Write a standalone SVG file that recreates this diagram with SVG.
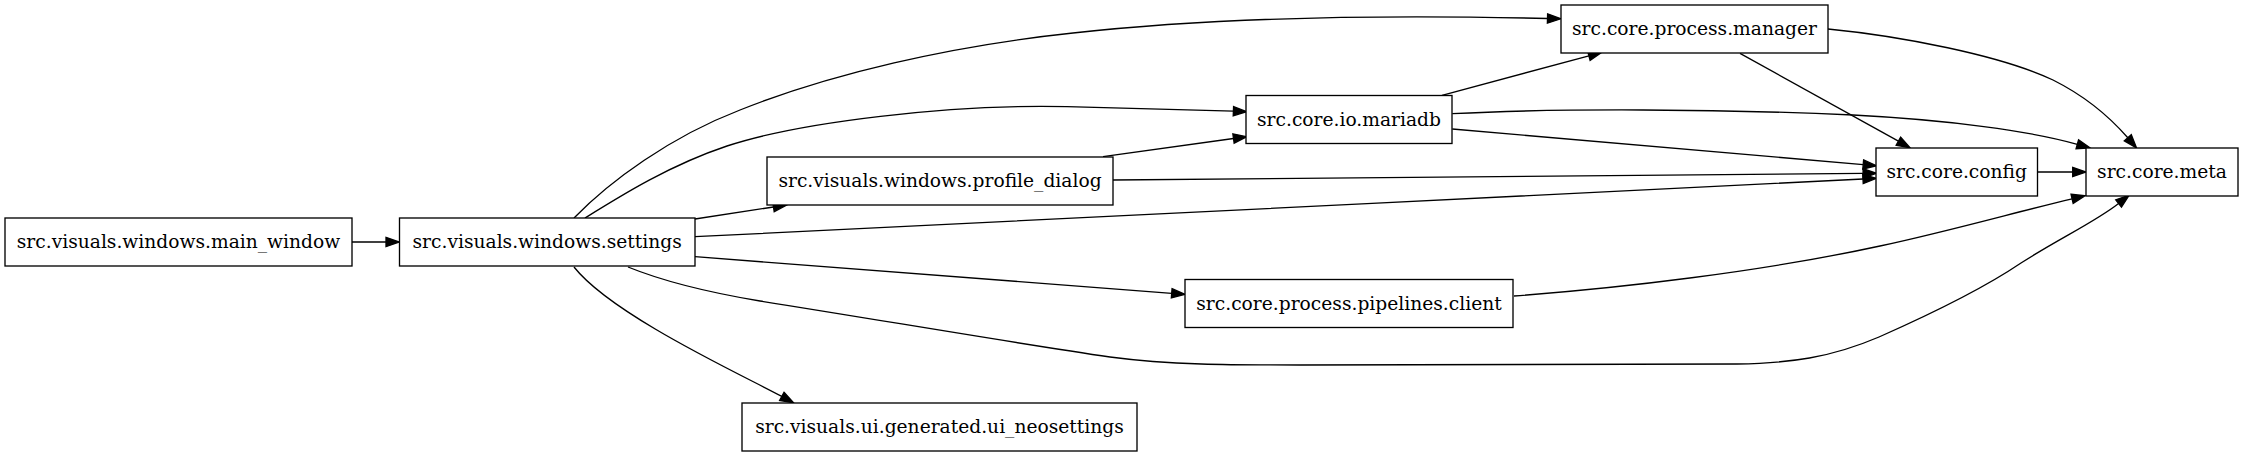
<svg xmlns="http://www.w3.org/2000/svg" width="2243" height="456" viewBox="0 0 2243 456">
<style>
.n rect{fill:#ffffff;stroke:#000000;stroke-width:1.33}
.n text{font-family:"DejaVu Serif","Liberation Serif",serif;font-size:18.67px;text-anchor:middle;fill:#000000}
.e path{fill:none;stroke:#000000;stroke-width:1.33;marker-end:url(#ah)}
</style>
<defs>
<marker id="ah" markerUnits="userSpaceOnUse" markerWidth="16" markerHeight="12" refX="0" refY="4.67" orient="auto" overflow="visible">
<path d="M0,0 L13.33,4.67 L0,9.33 Z" fill="#000000" stroke="#000000" stroke-width="1.33"/>
</marker>
</defs>
<rect width="2243" height="456" fill="#ffffff"/>
<g id="edges" class="e">
<path d="M352,242 L386,242"/>
<path d="M574,218 C610,181 670,137 740,110 C830,74 950,46 1073,33 C1200,19 1360,14 1547.5,18.5"/>
<path d="M585,218 C622,195 670,165 727,146 C800,122 950,104 1067,106.7 C1130,108 1190,109.5 1233.4,111.2"/>
<path d="M695,219 L773.5,207"/>
<path d="M695,236.7 C1000,222 1500,197 1863,179"/>
<path d="M695,256.7 L1171.7,293.3"/>
<path d="M628,267 C660,280 700,291 760,301 C880,320 1020,344 1110,357 C1170,365 1230,365 1300,365 L1737,364 C1790,363 1830,358 1879,337 C1940,310 1990,284 2021,263 C2060,238 2095,222 2118.6,203.5"/>
<path d="M574,267 C612,315 740,374 781.8,396.4"/>
<path d="M1103,156.7 L1233.5,138.5"/>
<path d="M1113,180 C1400,178 1650,175 1863.1,173.4"/>
<path d="M1442,95.3 L1588.9,55.8"/>
<path d="M1452.3,129 L1863.2,164.6"/>
<path d="M1452.3,113.7 C1560,108 1720,109 1853,115 C1950,120 2030,131 2077.3,144.3"/>
<path d="M1740,53.3 L1898.4,141.2"/>
<path d="M1828,29 C1900,36 2000,55 2053,80 C2085,96 2108,115 2127.8,137.8"/>
<path d="M2038,172 L2072.7,172"/>
<path d="M1514,296 C1620,288 1760,272 1880,246 C1950,231 2020,211 2072.1,198.8"/>
</g>
<g id="main_window" class="n"><rect x="5" y="218" width="347" height="48"/><text x="178.5" y="248.3">src.visuals.windows.main_window</text></g>
<g id="settings" class="n"><rect x="399.5" y="218" width="295.5" height="48"/><text x="547.2" y="248.3">src.visuals.windows.settings</text></g>
<g id="profile_dialog" class="n"><rect x="767" y="157" width="346" height="48"/><text x="940" y="187.3">src.visuals.windows.profile_dialog</text></g>
<g id="mariadb" class="n"><rect x="1246" y="95.5" width="206" height="48"/><text x="1349" y="125.8">src.core.io.mariadb</text></g>
<g id="manager" class="n"><rect x="1561" y="5" width="267" height="48"/><text x="1694.5" y="35.3">src.core.process.manager</text></g>
<g id="config" class="n"><rect x="1876" y="148" width="161.5" height="48"/><text x="1956.7" y="178.3">src.core.config</text></g>
<g id="meta" class="n"><rect x="2086" y="148" width="152" height="48"/><text x="2162" y="178.3">src.core.meta</text></g>
<g id="pipelines_client" class="n"><rect x="1185" y="279.5" width="328" height="48"/><text x="1349" y="309.8">src.core.process.pipelines.client</text></g>
<g id="ui_neosettings" class="n"><rect x="742" y="403" width="395" height="48"/><text x="939.5" y="433.3">src.visuals.ui.generated.ui_neosettings</text></g>
</svg>
